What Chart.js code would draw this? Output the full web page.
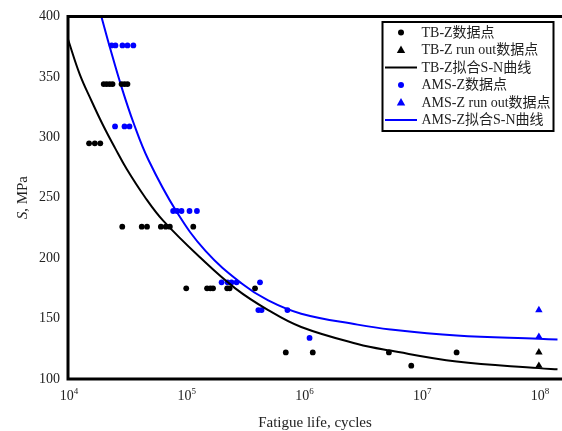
<!DOCTYPE html>
<html>
<head>
<meta charset="utf-8">
<script src="https://cdn.jsdelivr.net/npm/chart.js@4/dist/chart.umd.min.js"></script>
<style>
html, body { margin: 0; padding: 0; background: #fff; overflow: hidden; }
</style>
</head>
<body>
<canvas id="graph" width="562" height="431"></canvas>
<script>
'use strict';

// TB-Z 试验数据点 (循环次数, 应力 MPa)
const tbN = [15100, 16900, 18800,
    20100, 21300, 22600, 23900, 28500, 30200, 32000,
    28900, 42300, 46900, 61500, 67700, 73300, 115900,
    101000, 151800, 162000, 170600, 224900, 236000, 388000,
    708000, 1200000, 5320000, 20000000,
    8240000];
const tbS = [295, 295, 295,
    344, 344, 344, 344, 344, 344, 344,
    226, 226, 226, 226, 226, 226, 226,
    175, 175, 175, 175, 175, 175, 175,
    122, 122, 122, 122,
    111];

// TB-Z run out
const tbRunN = [100000000, 100000000];
const tbRunS = [122, 111];

// TB-Z 拟合曲线 (图上读取)
const tbFitN = [10000, 12590, 15850, 19950, 25120, 31620, 44670, 64300, 137700, 263600, 502000, 957000, 2880000, 5480000, 20000000, 100000000, 144500000];
const tbFitS = [381, 352, 330, 309.5, 291, 273.5, 251, 231, 199, 175, 157, 143, 129, 123.5, 114.5, 109, 108];

// AMS-Z 试验数据点
const amsN = [23500, 25300, 29000, 32000, 35900,
    25100, 30200, 33300,
    78200, 84400, 92100, 107700, 124500,
    201700, 226800, 245000, 270300, 427600,
    414000, 441000, 731000,
    1127000];
const amsS = [376, 376, 376, 376, 376,
    309, 309, 309,
    239, 239, 239, 239, 239,
    180, 180, 180, 180, 180,
    157, 157, 157,
    134];

// AMS-Z run out
const amsRunN = [100000000, 100000000];
const amsRunS = [157, 135];

// AMS-Z 拟合曲线
const amsFitN = [19200, 22900, 28300, 36000, 48400, 83000, 147200, 299000, 502000, 957000, 2880000, 5480000, 20000000, 100000000, 144500000];
const amsFitS = [400, 373, 342.5, 312, 281, 239, 206, 179, 165, 154, 145, 141, 136, 133.2, 132.6];

// 坐标轴
const xMin = 10000;
const xMax = 144500000;
const xTicks = [10000, 100000, 1000000, 10000000, 100000000];
const xTickExp = ['4', '5', '6', '7', '8'];
const yMin = 100;
const yMax = 400;
const yTicks = [100, 150, 200, 250, 300, 350, 400];

const serif = '"Liberation Serif", "Noto Sans CJK SC", serif';
const textColor = '#222';

let chart = null;

function toXY(xs, ys) {
    let pts = [];
    for (let i = 0; i < xs.length; i++) {
        pts.push({x: xs[i], y: ys[i]});
    }
    return pts;
}

// 外框, 坐标轴标题, 上标刻度, 图例
const decorPlugin = {
    id: 'decor',
    afterDatasetsDraw(c) {
        const ctx = c.ctx;
        const a = c.chartArea;
        ctx.save();

        // frame (右边在画面外)
        ctx.strokeStyle = '#000';
        ctx.lineWidth = 3;
        ctx.beginPath();
        ctx.moveTo(c.width + 5, a.top);
        ctx.lineTo(a.left, a.top);
        ctx.lineTo(a.left, a.bottom);
        ctx.lineTo(c.width + 5, a.bottom);
        ctx.stroke();

        // x ticks: 10^n
        const xs = c.scales.x;
        ctx.fillStyle = textColor;
        ctx.textBaseline = 'alphabetic';
        ctx.textAlign = 'left';
        for (let i = 0; i < xTicks.length; i++) {
            const px = xs.getPixelForValue(xTicks[i]);
            ctx.font = '14px ' + serif;
            const wBase = ctx.measureText('10').width;
            ctx.font = '9px ' + serif;
            const wExp = ctx.measureText(xTickExp[i]).width;
            const x0 = px - (wBase + wExp) / 2 + 1;
            ctx.font = '14px ' + serif;
            ctx.fillText('10', x0, 400);
            ctx.font = '9px ' + serif;
            ctx.fillText(xTickExp[i], x0 + wBase, 394);
        }

        // x title
        ctx.font = '15px ' + serif;
        ctx.textAlign = 'center';
        ctx.fillText('Fatigue life, cycles', (a.left + c.width) / 2, 427);

        // y title: 斜体 S
        ctx.translate(27, (a.top + a.bottom) / 2);
        ctx.rotate(-Math.PI / 2);
        ctx.font = 'italic 15px ' + serif;
        const wS = ctx.measureText('S').width;
        ctx.font = '15px ' + serif;
        const wRest = ctx.measureText(', MPa').width;
        ctx.textAlign = 'left';
        ctx.font = 'italic 15px ' + serif;
        ctx.fillText('S', -(wS + wRest) / 2, 0);
        ctx.font = '15px ' + serif;
        ctx.fillText(', MPa', -(wS + wRest) / 2 + wS, 0);
        ctx.restore();

        drawLegend(c);
    }
};

function drawLegend(c) {
    const ctx = c.ctx;
    const bx = 382.5, by = 22, bw = 171, bh = 109;
    ctx.save();
    ctx.fillStyle = '#fff';
    ctx.fillRect(bx, by, bw, bh);
    ctx.strokeStyle = '#000';
    ctx.lineWidth = 2;
    ctx.strokeRect(bx, by, bw, bh);

    const sets = c.data.datasets;
    for (let i = 0; i < sets.length; i++) {
        const d = sets[i];
        const y = 32.5 + i * 17.5;
        const sx = 401;
        if (d.showLine) {
            ctx.strokeStyle = d.borderColor;
            ctx.lineWidth = 2;
            ctx.beginPath();
            ctx.moveTo(385, y);
            ctx.lineTo(417, y);
            ctx.stroke();
        } else if (d.pointStyle === 'triangle') {
            ctx.fillStyle = d.backgroundColor;
            ctx.beginPath();
            ctx.moveTo(sx, y - 4.5);
            ctx.lineTo(sx + 4.2, y + 3);
            ctx.lineTo(sx - 4.2, y + 3);
            ctx.closePath();
            ctx.fill();
        } else {
            ctx.fillStyle = d.backgroundColor;
            ctx.beginPath();
            ctx.arc(sx, y, 3, 0, Math.PI * 2);
            ctx.fill();
        }
        ctx.fillStyle = textColor;
        ctx.font = '14px ' + serif;
        ctx.textAlign = 'left';
        ctx.textBaseline = 'middle';
        ctx.fillText(d.label, 421.5, y + 0.5);
    }
    ctx.restore();
}

function NewGraph() {
    let context = document.querySelector('#graph').getContext('2d');
    if (chart) {
        chart.destroy();
    }
    chart = new Chart(context, {
        type: 'scatter',
        data: {
            datasets: [{
                label: 'TB-Z数据点',
                data: toXY(tbN, tbS),
                pointStyle: 'circle',
                backgroundColor: '#000',
                pointRadius: 2.9,
                pointBorderWidth: 0,
                showLine: false
            }, {
                label: 'TB-Z run out数据点',
                data: toXY(tbRunN, tbRunS),
                pointStyle: 'triangle',
                backgroundColor: '#000',
                pointRadius: 4.3,
                pointBorderWidth: 0,
                showLine: false
            }, {
                label: 'TB-Z拟合S-N曲线',
                data: toXY(tbFitN, tbFitS),
                showLine: true,
                borderColor: '#000',
                borderWidth: 2,
                pointRadius: 0,
                tension: 0.4
            }, {
                label: 'AMS-Z数据点',
                data: toXY(amsN, amsS),
                pointStyle: 'circle',
                backgroundColor: '#0000ff',
                pointRadius: 2.9,
                pointBorderWidth: 0,
                showLine: false
            }, {
                label: 'AMS-Z run out数据点',
                data: toXY(amsRunN, amsRunS),
                pointStyle: 'triangle',
                backgroundColor: '#0000ff',
                pointRadius: 4.3,
                pointBorderWidth: 0,
                showLine: false
            }, {
                label: 'AMS-Z拟合S-N曲线',
                data: toXY(amsFitN, amsFitS),
                showLine: true,
                borderColor: '#0000ff',
                borderWidth: 2,
                pointRadius: 0,
                tension: 0.4
            }]
        },
        options: {
            responsive: false,
            animation: false,
            devicePixelRatio: 1,
            layout: { padding: { top: 13, left: 0, right: 0, bottom: 0 } },
            plugins: {
                legend: { display: false },
                tooltip: { enabled: false }
            },
            scales: {
                x: {
                    type: 'logarithmic',
                    min: xMin,
                    max: xMax,
                    afterBuildTicks: function(s) {
                        s.ticks = xTicks.map(v => ({ value: v }));
                    },
                    ticks: { display: false },
                    grid: { display: false, drawTicks: false },
                    border: { display: false },
                    afterFit: function(s) { s.height = 52; }
                },
                y: {
                    min: yMin,
                    max: yMax,
                    afterBuildTicks: function(s) {
                        s.ticks = yTicks.map(v => ({ value: v }));
                    },
                    ticks: {
                        color: textColor,
                        padding: 8,
                        font: { family: serif, size: 14 }
                    },
                    grid: { display: false, drawTicks: false },
                    border: { display: false },
                    afterFit: function(s) { s.width = 68; }
                }
            }
        },
        plugins: [decorPlugin]
    });
}

NewGraph();
</script>
</body>
</html>
